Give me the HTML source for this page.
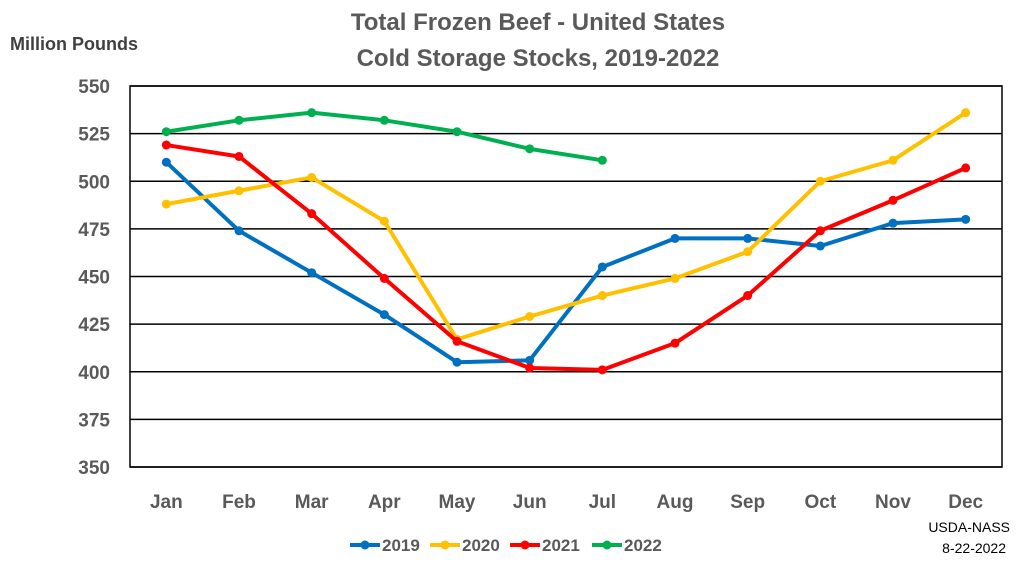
<!DOCTYPE html>
<html><head><meta charset="utf-8"><style>
body{margin:0;background:#fff;width:1024px;height:564px;overflow:hidden;font-family:"Liberation Sans",sans-serif}
</style></head><body>
<svg id="chart" width="1024" height="564" xmlns="http://www.w3.org/2000/svg" font-family="Liberation Sans, sans-serif">
<text x="538" y="30" text-anchor="middle" font-size="24" font-weight="bold" fill="#595959">Total Frozen Beef - United States</text>
<text x="538" y="66" text-anchor="middle" font-size="24" font-weight="bold" fill="#595959">Cold Storage Stocks, 2019-2022</text>
<text x="10" y="50" font-size="18" font-weight="bold" fill="#404040">Million Pounds</text>
<g id="grid"></g><g id="series"></g>
<text x="1010" y="532" text-anchor="end" font-size="14" fill="#000">USDA-NASS</text>
<text x="1006" y="553" text-anchor="end" font-size="14" fill="#000">8-22-2022</text>
<g id="legend"></g>
</svg>
<script>
const months=["Jan","Feb","Mar","Apr","May","Jun","Jul","Aug","Sep","Oct","Nov","Dec"];
const yTicks=[350,375,400,425,450,475,500,525,550];
const s2019=[510,474,452,430,405,406,455,470,470,466,478,480];
const s2020=[488,495,502,479,417,429,440,449,463,500,511,536];
const s2021=[519,513,483,449,416,402,401,415,440,474,490,507];
const s2022=[526,532,536,532,526,517,511];
const seriesNames=["2019","2020","2021","2022"];
const ns="http://www.w3.org/2000/svg";
const L=130,R=1002,T=86,B=467;
const x=i=>L+(R-L)*(i+0.5)/12;
const y=v=>B-(v-350)/200*(B-T);
function mk(p,t,a){const e=document.createElementNS(ns,t);for(const k in a)e.setAttribute(k,a[k]);p.appendChild(e);return e;}
const g=document.getElementById('grid');
yTicks.forEach(v=>{
 const l=mk(g,'line',{x1:L,x2:R,y1:y(v),y2:y(v),stroke:'#000','stroke-width':1.5});
 
 
 const t=mk(g,'text',{x:110,y:y(v)+7,'text-anchor':'end','font-size':19,'font-weight':'bold',fill:'#595959'});
 t.textContent=v;
 
 
});
const box=mk(g,'rect',{x:L,y:T,width:R-L,height:B-T,fill:'none',stroke:'#000','stroke-width':1.5});


months.forEach((m,i)=>{
 const t=mk(g,'text',{x:x(i),y:508,'text-anchor':'middle','font-size':19,'font-weight':'bold',fill:'#595959'});
 t.textContent=m;
 
 
});
const colors=["#0070C0","#FFC000","#FF0000","#00B050"];
const data=[s2019,s2020,s2021,s2022];
const sg=document.getElementById('series');
data.forEach((d,k)=>{
 const pts=d.map((v,i)=>x(i)+','+y(v)).join(' ');
 const pl=mk(sg,'polyline',{points:pts,fill:'none',stroke:colors[k],'stroke-width':4,'stroke-linejoin':'round'});
 
 
 d.forEach((v,i)=>{
  const c=mk(sg,'circle',{cx:x(i),cy:y(v),r:4.5,fill:colors[k]});
  
  
 });
});
const lg=document.getElementById('legend');
const lx=[350,430,510,592];
seriesNames.forEach((n,k)=>{
 const e=mk(lg,'g',{});
 
 
 mk(e,'line',{x1:lx[k],x2:lx[k]+30,y1:545,y2:545,stroke:colors[k],'stroke-width':4});
 mk(e,'circle',{cx:lx[k]+15,cy:545,r:4.5,fill:colors[k]});
 const t=mk(e,'text',{x:lx[k]+32,y:551,'font-size':17,'font-weight':'bold',fill:'#595959'});
 t.textContent=n;
});
</script>
</body></html>
